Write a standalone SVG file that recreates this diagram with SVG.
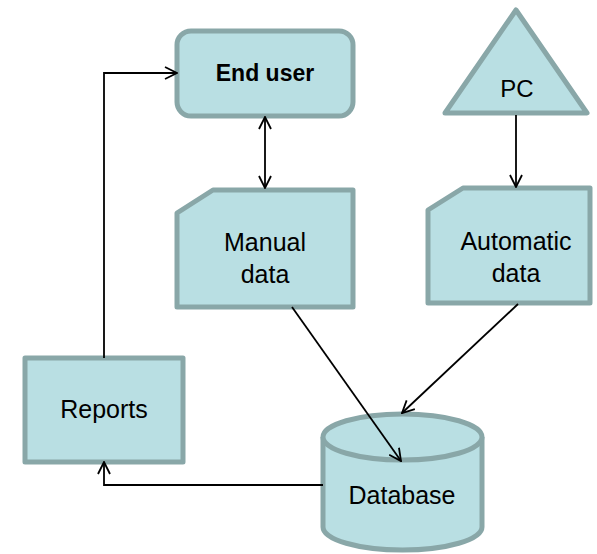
<svg xmlns="http://www.w3.org/2000/svg" width="597" height="554" viewBox="0 0 597 554">
<style>
.shape{fill:#b9dfe3;stroke:#89a7a8;stroke-width:5;stroke-linejoin:round}
.t{font-family:"Liberation Sans",Arial,sans-serif;font-size:25px;fill:#000;text-anchor:middle}
.b{font-weight:bold;font-size:23px}
.c{fill:none;stroke:#000;stroke-width:1.8}
</style>
<defs>
<marker id="arr" viewBox="0 0 14 14" refX="13" refY="7" markerWidth="14" markerHeight="14" markerUnits="userSpaceOnUse" orient="auto-start-reverse">
<path d="M1,1 L13,7 L1,13" fill="none" stroke="#000" stroke-width="1.8"/>
</marker>
</defs>
<g id="end-user">
<rect class="shape" x="177" y="31" width="176" height="85" rx="14"/>
<text class="t b" x="265" y="81">End user</text>
</g>
<g id="pc">
<polygon class="shape" points="516,10 587,113 445,113"/>
<text class="t" x="517" y="97" style="font-size:24px">PC</text>
</g>
<g id="manual-data">
<path class="shape" d="M213,190 L353,190 L353,307 L177,307 L177,213 Z"/>
<text class="t" x="265" y="251">Manual</text>
<text class="t" x="265" y="283">data</text>
</g>
<g id="automatic-data">
<path class="shape" d="M463,188 L590,188 L590,303 L428,303 L428,210 Z"/>
<text class="t" x="516" y="250">Automatic</text>
<text class="t" x="516" y="282">data</text>
</g>
<g id="reports">
<rect class="shape" x="25" y="358" width="158" height="104"/>
<text class="t" x="104" y="418">Reports</text>
</g>
<g id="database">
<path class="shape" d="M323,437 L323,527 A79.5,23 0 0 0 482,527 L482,437 A79.5,23 0 0 0 323,437 Z"/>
<path class="shape" d="M323,437 A79.5,23 0 0 0 482,437" fill="none"/>
<text class="t" x="402" y="504">Database</text>
</g>
<g id="connectors">
<path class="c" d="M104,358 L104,73 L177,73" marker-end="url(#arr)"/>
<path class="c" d="M265,117 L265,188" marker-start="url(#arr)" marker-end="url(#arr)"/>
<path class="c" d="M516,115 L516,187" marker-end="url(#arr)"/>
<path class="c" d="M292,307 L401,461" marker-end="url(#arr)"/>
<path class="c" d="M518,304 L402,413" marker-end="url(#arr)"/>
<path class="c" d="M323,485 L104,485 L104,462" marker-end="url(#arr)"/>
</g>
</svg>
